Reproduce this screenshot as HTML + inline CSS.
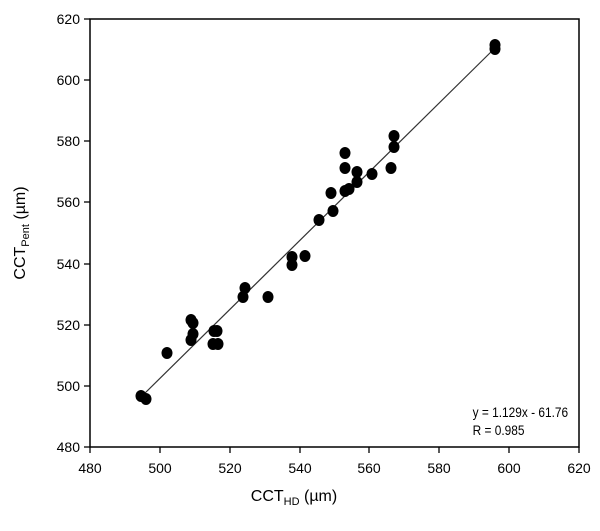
<!DOCTYPE html>
<html><head><meta charset="utf-8"><style>
body{margin:0;background:#fff;}
svg text{font-family:"Liberation Sans",sans-serif;fill:#000;}
</style></head><body>
<svg width="600" height="526" viewBox="0 0 600 526" xmlns="http://www.w3.org/2000/svg">
<rect width="600" height="526" fill="#fff"/>
<rect x="90" y="19" width="489" height="428" fill="none" stroke="#000" stroke-width="1.5"/>
<g stroke="#000" stroke-width="1.3">
<line x1="84" y1="19" x2="90" y2="19"/><line x1="84" y1="80" x2="90" y2="80"/><line x1="84" y1="141" x2="90" y2="141"/><line x1="84" y1="202" x2="90" y2="202"/><line x1="84" y1="264" x2="90" y2="264"/><line x1="84" y1="325" x2="90" y2="325"/><line x1="84" y1="386" x2="90" y2="386"/><line x1="84" y1="447" x2="90" y2="447"/>
<line x1="90" y1="447" x2="90" y2="453"/><line x1="160" y1="447" x2="160" y2="453"/><line x1="230" y1="447" x2="230" y2="453"/><line x1="300" y1="447" x2="300" y2="453"/><line x1="369" y1="447" x2="369" y2="453"/><line x1="439" y1="447" x2="439" y2="453"/><line x1="509" y1="447" x2="509" y2="453"/><line x1="579" y1="447" x2="579" y2="453"/>
</g>
<g font-size="14" text-anchor="end">
<text x="80" y="24">620</text><text x="80" y="85">600</text><text x="80" y="146">580</text><text x="80" y="207">560</text><text x="80" y="269">540</text><text x="80" y="330">520</text><text x="80" y="391">500</text><text x="80" y="452">480</text>
</g>
<g font-size="14" text-anchor="middle">
<text x="90" y="473">480</text><text x="160" y="473">500</text><text x="230" y="473">520</text><text x="300" y="473">540</text><text x="369" y="473">560</text><text x="439" y="473">580</text><text x="509" y="473">600</text><text x="579" y="473">620</text>
</g>
<text x="294" y="501" font-size="16" text-anchor="middle">CCT<tspan font-size="11" dy="4">HD</tspan><tspan dy="-4"> (µm)</tspan></text>
<text transform="translate(25,233) rotate(-90)" font-size="16" text-anchor="middle">CCT<tspan font-size="11" dy="4">Pent</tspan><tspan dy="-4"> (µm)</tspan></text>
<line x1="140" y1="398" x2="496" y2="47" stroke="#333" stroke-width="1.2"/>
<g fill="#000">
<ellipse cx="141" cy="396" rx="5.5" ry="6"/><ellipse cx="146" cy="399" rx="5.5" ry="6"/>
<ellipse cx="167" cy="353" rx="5.5" ry="6"/>
<ellipse cx="191" cy="320" rx="5.5" ry="6"/><ellipse cx="193" cy="323" rx="5.5" ry="6"/>
<ellipse cx="193" cy="334" rx="5.5" ry="6"/><ellipse cx="191" cy="340" rx="5.5" ry="6"/>
<ellipse cx="214" cy="331" rx="5.5" ry="6"/><ellipse cx="217" cy="331" rx="5.5" ry="6"/>
<ellipse cx="213" cy="344" rx="5.5" ry="6"/><ellipse cx="218" cy="344" rx="5.5" ry="6"/>
<ellipse cx="245" cy="288" rx="5.5" ry="6"/><ellipse cx="243" cy="297" rx="5.5" ry="6"/>
<ellipse cx="268" cy="297" rx="5.5" ry="6"/>
<ellipse cx="292" cy="257" rx="5.5" ry="6"/><ellipse cx="292" cy="265" rx="5.5" ry="6"/><ellipse cx="305" cy="256" rx="5.5" ry="6"/>
<ellipse cx="319" cy="220" rx="5.5" ry="6"/><ellipse cx="333" cy="211" rx="5.5" ry="6"/><ellipse cx="331" cy="193" rx="5.5" ry="6"/>
<ellipse cx="345" cy="191" rx="5.5" ry="6"/><ellipse cx="349" cy="189" rx="5.5" ry="6"/><ellipse cx="357" cy="182" rx="5.5" ry="6"/><ellipse cx="357" cy="172" rx="5.5" ry="6"/>
<ellipse cx="345" cy="168" rx="5.5" ry="6"/><ellipse cx="345" cy="153" rx="5.5" ry="6"/><ellipse cx="372" cy="174" rx="5.5" ry="6"/>
<ellipse cx="391" cy="168" rx="5.5" ry="6"/><ellipse cx="394" cy="147" rx="5.5" ry="6"/><ellipse cx="394" cy="136" rx="5.5" ry="6"/>
<ellipse cx="495" cy="45" rx="5.5" ry="6"/><ellipse cx="495" cy="49" rx="5.5" ry="6"/>
</g>
<g font-size="14" transform="scale(0.85,1)">
<text x="556" y="417">y = 1.129x - 61.76</text>
<text x="556" y="435">R = 0.985</text>
</g>
</svg>
</body></html>
